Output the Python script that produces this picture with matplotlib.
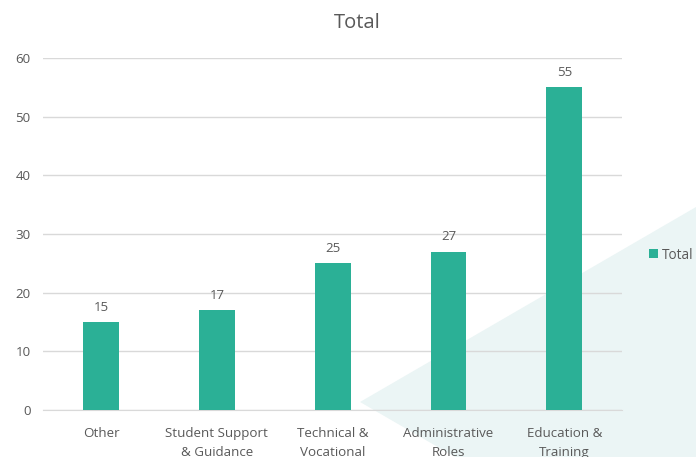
import matplotlib.pyplot as plt
from matplotlib.patches import Polygon

# Counts per role category
categories = ["Other", "Student Support\n& Guidance", "Technical &\nVocational",
              "Administrative\nRoles", "Education &\nTraining"]
totals = [15, 17, 25, 27, 55]
y_ticks = [0, 10, 20, 30, 40, 50, 60]

BAR_COLOR = "#2bb096"
TEXT_COLOR = "#595959"
GRID_COLOR = "#d9d9d9"

plt.rcParams["font.family"] = ["Open Sans", "DejaVu Sans"]

fig = plt.figure(figsize=(6.96, 4.57), dpi=100)

# Pale decorative wedge behind the chart
wedge = Polygon([(360 / 696, 1 - 402 / 457), (1.0, 1 - 207 / 457),
                 (1.0, 0.0), (455 / 696, 0.0)],
                closed=True, transform=fig.transFigure,
                facecolor="#ebf5f5", edgecolor="none", zorder=-5)
fig.patches.append(wedge)

ax = fig.add_axes([0.062, 0.103, 0.832, 0.770])
ax.set_facecolor("none")
ax.set_zorder(1)

x = range(len(categories))
bars = ax.bar(x, totals, width=0.31, color=BAR_COLOR, zorder=3, label="Total")

for rect, val in zip(bars, totals):
    ax.annotate(str(val), (rect.get_x() + rect.get_width() / 2, val),
                xytext=(0, 6), textcoords="offset points",
                ha="center", va="bottom", fontsize=9.5, color=TEXT_COLOR)

ax.set_xlim(-0.5, len(categories) - 0.5)
ax.set_ylim(0, 60)
ax.set_yticks(y_ticks)
ax.set_xticks(list(x))
ax.set_xticklabels(categories, fontsize=9.6, color=TEXT_COLOR, linespacing=1.65)
ax.tick_params(axis="y", labelsize=9.6, labelcolor=TEXT_COLOR, length=0, pad=9)
ax.tick_params(axis="x", length=0, pad=12)

ax.grid(axis="y", color=GRID_COLOR, linewidth=1, zorder=0)
for side in ["top", "right", "left"]:
    ax.spines[side].set_visible(False)
ax.spines["bottom"].set_color(GRID_COLOR)

fig.text(0.513, 0.949, "Total", ha="center", va="center",
         fontsize=14.5, color=TEXT_COLOR)

fig.legend(handles=[bars], labels=["Total"], loc="center left",
           bbox_to_anchor=(0.933, 0.442), frameon=False, fontsize=9.8,
           labelcolor=TEXT_COLOR, handlelength=0.6, handleheight=0.6,
           handletextpad=0.3, borderpad=0, borderaxespad=0)

fig.savefig("out.png", dpi=100)
